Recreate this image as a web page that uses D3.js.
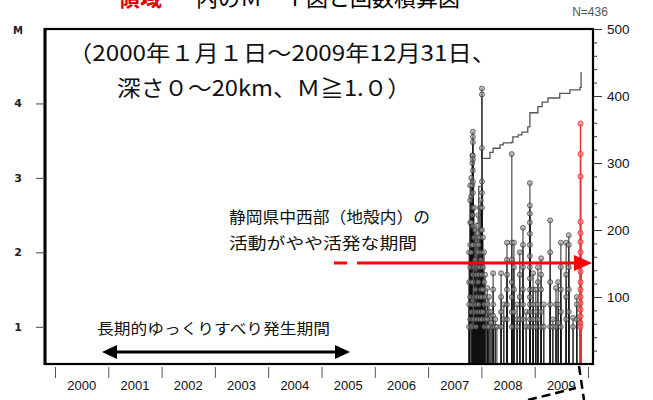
<!DOCTYPE html>
<html><head><meta charset="utf-8">
<script src="https://cdn.jsdelivr.net/npm/d3@7"></script>
<style>body{margin:0;background:#fff}svg{display:block}</style>
</head><body>
<svg id="c" width="653" height="400"></svg>
<script>
// ---- data ----
const yearLabels = ["2000","2001","2002","2003","2004","2005","2006","2007","2008","2009"];
const mTicks = [1,2,3,4];
const countTicks = [100,200,300,400,500];
// black events: stem times (decimal year) and magnitudes of events at each time
const stemTimes = [2007.77,2007.79,2007.81,2007.83,2007.84,2007.86,2007.88,2007.90,2007.92,2007.94,2007.95,2007.97,2007.99,2008.01,2008.03,2008.05,2008.07,
  2008.11,2008.14,2008.18,2008.22,2008.26,2008.29,2008.37,2008.42,2008.48,2008.57,2008.61,2008.67,2008.72,2008.78,2008.84,2008.91,2008.97,
  2009.02,2009.06,2009.12,2009.17,2009.29,2009.34,2009.40,2009.44,2009.49,2009.59,2009.64,2009.72,2009.79];
const stemMags = [
  [2.0,1.6,1.3,1.0],
  [2.9,2.7,2.4,2.1,1.8,1.4,1.1],
  [3.0,2.75,2.4,2.0,1.6,1.2],
  [3.3,3.2,2.9,2.5,2.1,1.7,1.3,1.0],
  [3.62,3.55,3.48,3.3,3.25,3.1,2.95,2.8,2.6,2.35,2.1,1.85,1.6,1.35,1.1],
  [2.6,2.2,1.8,1.4,1.1],
  [2.3,1.9,1.5,1.2],
  [2.1,1.7,1.3,1.0],
  [2.2,1.8,1.4,1.1],
  [2.5,2.0,1.6,1.2],
  [2.1,1.7,1.3],
  [2.6,2.2,1.8,1.4,1.1],
  [2.7,2.3,1.9,1.5,1.2],
  [4.2,4.12,3.4,2.95,2.8,2.6,2.3,2.0,1.7,1.4,1.1],
  [2.2,1.8,1.5,1.2],
  [2.0,1.6,1.3,1.0],
  [1.7,1.4,1.1],
  [1.52,1.3,1.1,1.0],
  [1.4,1.2,1.0],
  [1.2,1.05],
  [1.72,1.5,1.3,1.15,1.0],
  [1.1,1.0],
  [1.0],
  [1.72,1.4,1.2,1.0],
  [1.3,1.1],
  [2.13,1.9,1.7,1.5,1.3,1.1],
  [3.32,2.13,1.9,1.6,1.4,1.2,1.0],
  [2.13,1.8,1.5,1.2],
  [1.3,1.1,1.0],
  [2.0,1.7,1.4,1.1],
  [2.33,2.1,1.8,1.5,1.3,1.1],
  [1.2,1.0],
  [2.93,2.63,2.52,2.4,2.25,2.1,1.95,1.8,1.65,1.5,1.4,1.3,1.2,1.1,1.0],
  [1.72,1.5,1.3,1.1,1.0],
  [1.5,1.2,1.0],
  [1.8,1.6,1.3,1.1],
  [1.92,1.7,1.5,1.2,1.0],
  [1.3,1.0],
  [2.43,2.0,1.6,1.3,1.0],
  [1.1,1.0],
  [1.52,1.3,1.0],
  [1.6,1.3,1.05],
  [2.13,1.8,1.5,1.2,1.0],
  [2.13,1.7,1.4,1.1],
  [2.23,2.1,1.8,1.5,1.2],
  [1.12,1.0],
  [1.4,1.3,1.1]
];
// red events (latest activity)
const redTime = 2009.86;
const redMags = [3.73,3.32,3.02,2.41,2.26,2.14,2.0,1.87,1.74,1.6,1.5,1.4,1.32,1.23,1.14,1.05,1.0];
// cumulative count line
const cumTimes  = [2007.75,2007.80,2007.85,2007.90,2007.95,2008.01,2008.16,2008.22,2008.35,2008.41,2008.57,2008.59,2008.69,2008.76,2008.87,2008.91,2009.06,2009.14,2009.25,2009.47,2009.66,2009.85,2009.87];
const cumCounts = [0,60,140,210,265,307,316,322,327,330,331,339,342,346,354,375,384,391,397,404,409,413,436];

// ---- scales ----
const svg = d3.select("#c");
const L=45, R=593, T=29, B=364;
const x = d3.scaleLinear().domain([2000,2010]).range([55,588]);
const yM = d3.scaleLinear().domain([0.5,5]).range([B,T]);
const yN = d3.scaleLinear().domain([0,500]).range([B,T]);
const jp = "'Noto Sans CJK JP', sans-serif";
const lat = "'Liberation Sans', Arial, sans-serif";

// title (cut off at top, as in the source figure)
svg.append("text").attr("x",118).attr("y",6).attr("font-family",jp).attr("font-size",22).attr("font-weight","bold").attr("fill","#e00000").text("領域");
svg.append("text").attr("x",196).attr("y",6).attr("font-family",jp).attr("font-size",22).attr("fill","#000").text("内のＭ－Ｔ図と回数積算図");

// N label
svg.append("text").attr("x",590).attr("y",16).attr("text-anchor","middle").attr("font-family",lat).attr("font-size",12).attr("fill","#555").text("N=436");

// stems (black)
const events = [];
stemTimes.forEach((t,i)=>stemMags[i].forEach(m=>events.push({t,m})));
const g = svg.append("g");
g.selectAll("line.s").data(events).join("line")
  .attr("x1",d=>x(d.t)).attr("x2",d=>x(d.t)).attr("y1",B).attr("y2",d=>yM(d.m))
  .attr("stroke","#111").attr("stroke-width",1.4).attr("stroke-opacity",0.65);
// cumulative line
svg.append("path").datum(cumTimes.map((t,i)=>[t,cumCounts[i]]))
  .attr("fill","none").attr("stroke","#555").attr("stroke-width",1.3)
  .attr("d",d3.line().x(d=>x(d[0])).y(d=>yN(d[1])).curve(d3.curveStepAfter));
g.selectAll("circle.s").data(events).join("circle")
  .attr("cx",d=>x(d.t)).attr("cy",d=>yM(d.m)).attr("r",2.5)
  .attr("fill","#9a9a9a").attr("fill-opacity",0.6).attr("stroke","#222").attr("stroke-width",0.8).attr("stroke-opacity",0.75);

// red stems
const redEv = redMags.map(m=>({t:redTime,m}));
svg.selectAll("line.r").data(redEv).join("line")
  .attr("x1",d=>x(d.t)).attr("x2",d=>x(d.t)).attr("y1",B).attr("y2",d=>yM(d.m))
  .attr("stroke","#e8303a").attr("stroke-width",1.4);
svg.selectAll("circle.r").data(redEv).join("circle")
  .attr("cx",d=>x(d.t)).attr("cy",d=>yM(d.m)).attr("r",2.6)
  .attr("fill","#f07a7a").attr("fill-opacity",0.6).attr("stroke","#e03030").attr("stroke-width",0.8);

// frame
svg.append("rect").attr("x",L).attr("y",T).attr("width",R-L).attr("height",B-T)
  .attr("fill","none").attr("stroke","#000").attr("stroke-width",2.2);
svg.append("line").attr("x1",L).attr("x2",L).attr("y1",T-1).attr("y2",B+1).attr("stroke","#000").attr("stroke-width",3);

// left axis
const ax = svg.append("g").attr("transform",`translate(${L},0)`)
  .call(d3.axisLeft(yM).tickValues(mTicks).tickSize(9).tickPadding(14).tickFormat(d3.format("d")));
ax.select(".domain").remove();
ax.selectAll("line").attr("stroke","#444");
ax.selectAll("text").attr("font-family","'DejaVu Sans', sans-serif").attr("font-weight","bold").attr("font-size",11).attr("fill","#222");
svg.append("text").attr("x",18).attr("y",34).attr("text-anchor","middle").attr("font-family","'DejaVu Sans', sans-serif").attr("font-weight","bold").attr("font-size",10).attr("fill","#222").text("M");

// right axis
const ar = svg.append("g").attr("transform",`translate(${R},0)`)
  .call(d3.axisRight(yN).tickValues(countTicks).tickSize(9).tickPadding(5));
ar.select(".domain").remove();
ar.selectAll("line").attr("stroke","#333");
ar.selectAll("text").attr("font-family",lat).attr("font-size",13.5).attr("fill","#111");
const minor = d3.range(20,500,20).filter(v=>v%100!==0);
svg.append("g").attr("transform",`translate(${R},0)`)
  .call(d3.axisRight(yN).tickValues(minor).tickSize(4).tickFormat(""))
  .call(s=>s.select(".domain").remove()).selectAll("line").attr("stroke","#333");

// bottom axis
const years = d3.range(2000,2011);
const ab = svg.append("g").attr("transform",`translate(0,${B+3})`)
  .call(d3.axisBottom(x).tickValues(years).tickSize(11).tickFormat(""));
ab.select(".domain").remove();
ab.selectAll("line").attr("stroke","#555");
svg.selectAll("text.yr").data(yearLabels).join("text").attr("class","yr")
  .attr("x",(d)=>x(+d+0.5)).attr("y",390).attr("text-anchor","middle")
  .attr("font-family",lat).attr("font-size",13).attr("fill","#111").text(d=>d);

// annotations
function note(t,xp,yp,size,len){
  svg.append("text").attr("x",xp).attr("y",yp).attr("font-family",jp).attr("font-size",size)
    .attr("fill","#111").attr("textLength",len).attr("lengthAdjust","spacingAndGlyphs").text(t);
}
note("（2000年１月１日～2009年12月31日、",68,61,22,428);
note("深さ０～20km、Ｍ≧1.０）",117,96,22,294);
note("静岡県中西部（地殻内）の",229,223,16,201);
note("活動がやや活発な期間",229,249,16,188);
note("長期的ゆっくりすべり発生期間",97,334,15,233);

// red arrow
svg.append("line").attr("x1",334).attr("x2",347).attr("y1",263).attr("y2",263).attr("stroke","#f00").attr("stroke-width",3);
svg.append("line").attr("x1",357).attr("x2",576).attr("y1",263).attr("y2",263).attr("stroke","#f00").attr("stroke-width",3);
svg.append("path").attr("d","M574,255 L592,263 L574,271 Z").attr("fill","#f00");
// black double arrow
svg.append("line").attr("x1",110).attr("x2",342).attr("y1",352).attr("y2",352).attr("stroke","#000").attr("stroke-width",3);
svg.append("path").attr("d","M102,352 L117,345 L117,359 Z M350,352 L335,345 L335,359 Z").attr("fill","#000");
// dashed callout
svg.append("path").attr("d","M528,400 L576,388").attr("stroke","#000").attr("stroke-width",2.5).attr("stroke-dasharray","9,5").attr("fill","none");
svg.append("path").attr("d","M579,366 L584,400").attr("stroke","#000").attr("stroke-width",2.5).attr("stroke-dasharray","9,5").attr("fill","none");
</script>
</body></html>
